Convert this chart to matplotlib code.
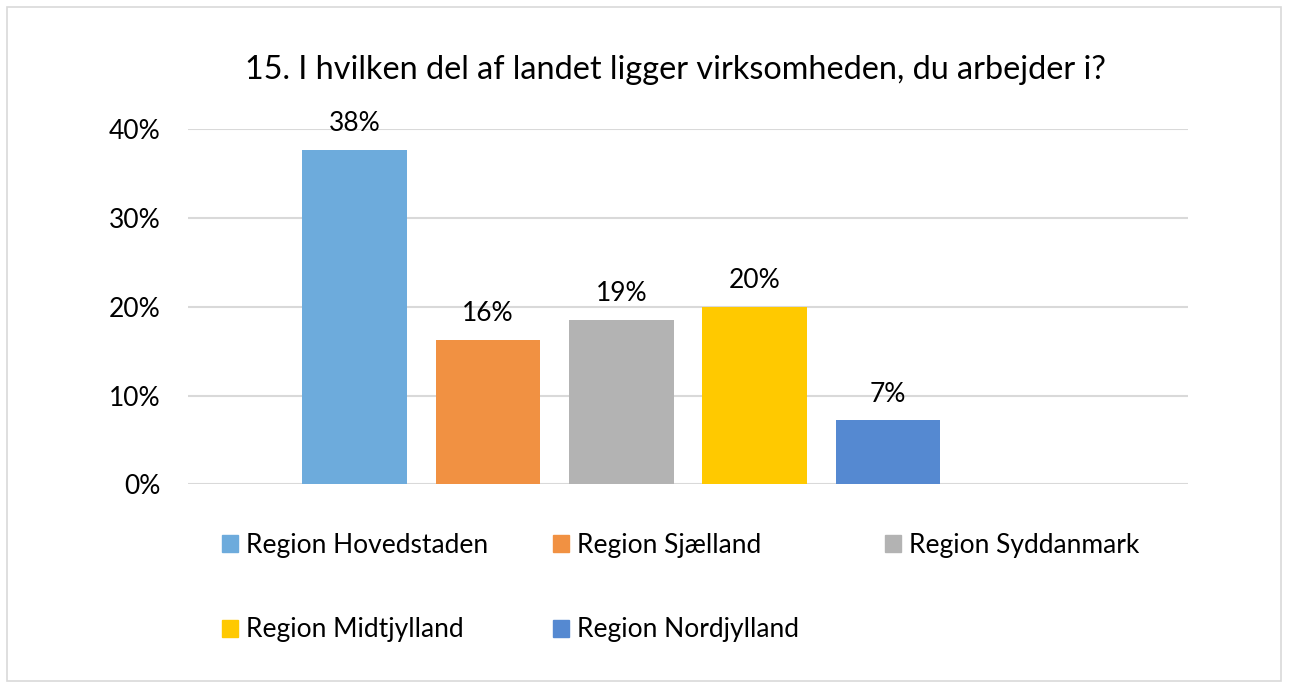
import matplotlib
matplotlib.use("Agg")
import matplotlib.pyplot as plt
from matplotlib.patches import Rectangle, Patch
from matplotlib.ticker import PercentFormatter

plt.rcParams['font.family'] = ['Lato', 'DejaVu Sans']

# data
regions = ["Region Hovedstaden", "Region Sjælland", "Region Syddanmark",
           "Region Midtjylland", "Region Nordjylland"]
shares = [0.377, 0.163, 0.185, 0.200, 0.072]
labels = ["38%", "16%", "19%", "20%", "7%"]
colors = ["#6DABDC", "#F19142", "#B3B3B3", "#FFC900", "#5589D1"]
yticks = [0, 0.1, 0.2, 0.3, 0.4]

W, H = 1289, 688
fig = plt.figure(figsize=(W / 100, H / 100), dpi=100)

# outer chart border
fig.patches.append(Rectangle((7 / W, 7 / H), 1274 / W, 674 / H, transform=fig.transFigure,
                             fill=False, edgecolor="#D9D9D9", linewidth=1.2))

ax = fig.add_axes([188 / W, 1 - 484.3 / H, 1000 / W, 355 / H])
x = list(range(len(regions)))
bars = ax.bar(x, shares, width=0.785, color=colors, zorder=3)
ax.set_xlim(-1.25, 6.25)
ax.set_ylim(0, 0.4)
ax.set_yticks(yticks)
ax.yaxis.set_major_formatter(PercentFormatter(1.0, decimals=0))
ax.set_xticks([])
ax.tick_params(axis="y", length=0, pad=20, labelsize=19, labelcolor="#000000")
ax.grid(axis="y", color="#D9D9D9", linewidth=1.5, zorder=0)
for s in ax.spines.values():
    s.set_visible(False)

for b, lab in zip(bars, labels):
    ax.annotate(lab, (b.get_x() + b.get_width() / 2, b.get_height()),
                xytext=(0, 10), textcoords="offset points",
                ha="center", va="bottom", fontsize=19)

fig.text(675 / W, 1 - 70 / H, "15. I hvilken del af landet ligger virksomheden, du arbejder i?",
         ha="center", va="center", fontsize=23.3)

# legend entries, one small legend per entry to match Excel's grid
spots = [(222, 545), (553, 545), (885, 545), (222, 630), (553, 630)]
for reg, col, (lx, ly) in zip(regions, colors, spots):
    fig.legend(handles=[Patch(color=col)], labels=[reg], loc="center left",
               bbox_to_anchor=(lx / W, 1 - ly / H), frameon=False, fontsize=19,
               handlelength=0.6, handleheight=0.6, handletextpad=0.3,
               borderpad=0, borderaxespad=0)

fig.savefig("out.png", dpi=100)
